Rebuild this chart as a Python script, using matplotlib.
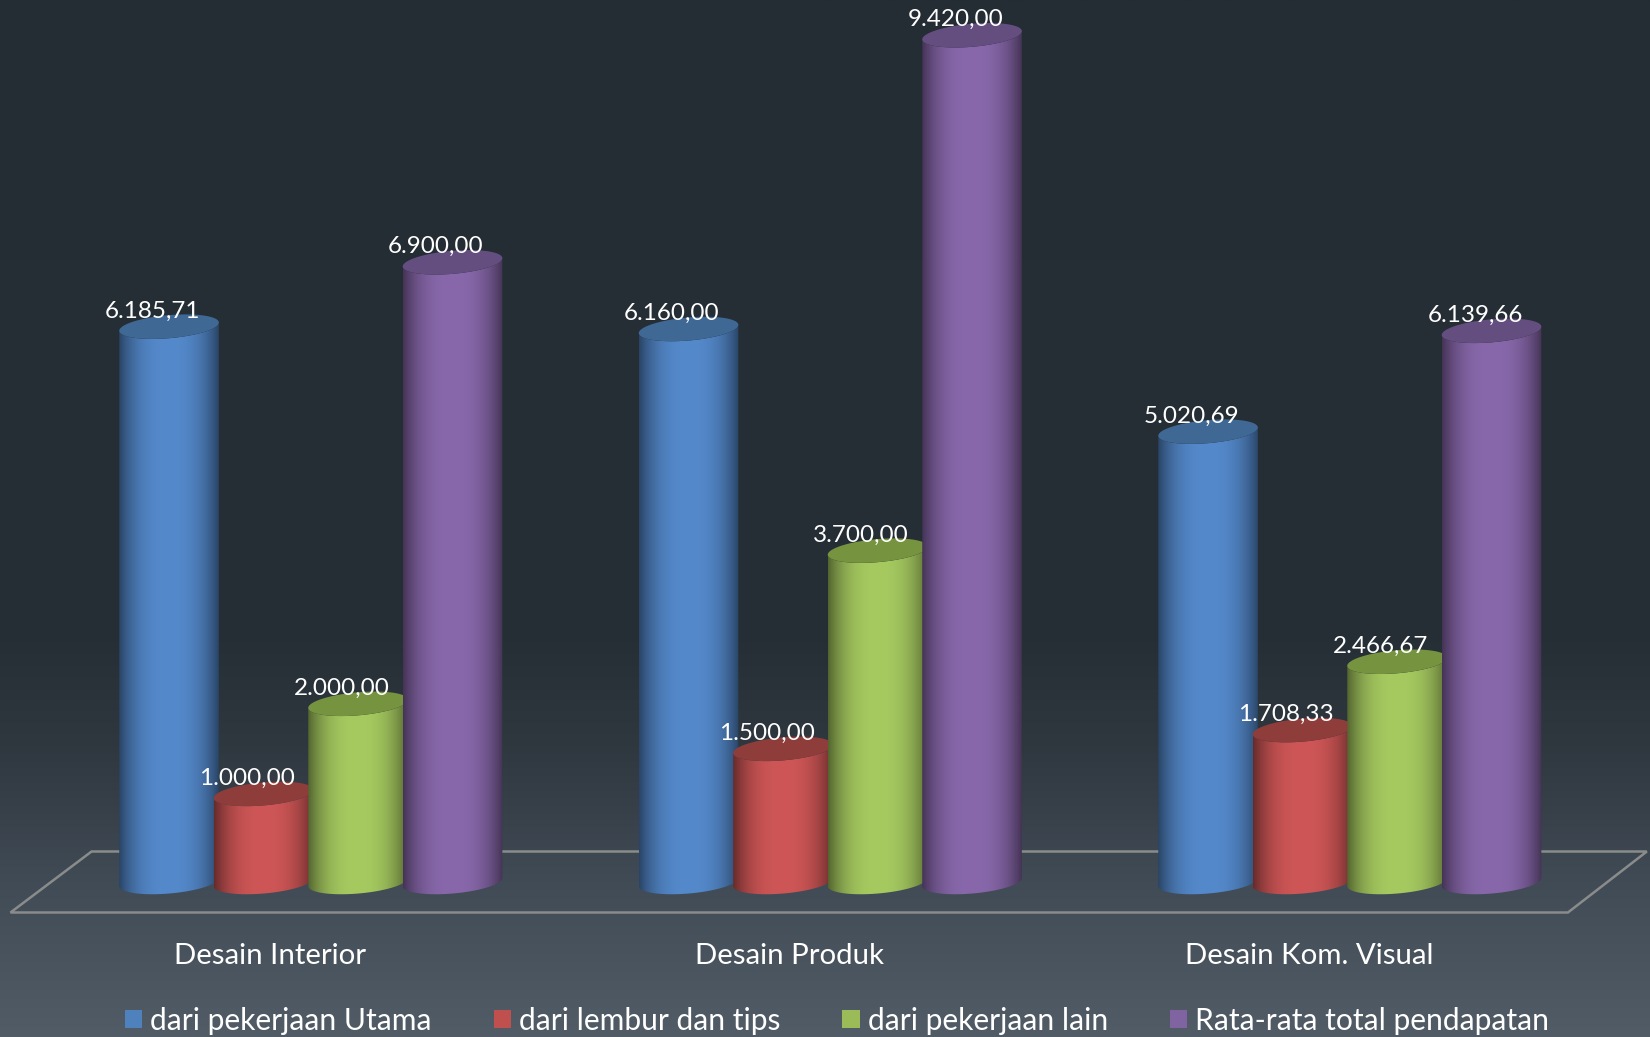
import numpy as np
import matplotlib
matplotlib.use('Agg')
import matplotlib.pyplot as plt
from matplotlib.patches import Polygon, Patch

plt.rcParams['font.family'] = ['Lato', 'DejaVu Sans']

# Data
categories = ['Desain Interior', 'Desain Produk', 'Desain Kom. Visual']
series_names = ['dari pekerjaan Utama', 'dari lembur dan tips', 'dari pekerjaan lain', 'Rata-rata total pendapatan']
pekerjaan_utama = [6185.71, 6160.00, 5020.69]
lembur_tips = [1000.00, 1500.00, 1708.33]
pekerjaan_lain = [2000.00, 3700.00, 2466.67]
total_pendapatan = [6900.00, 9420.00, 6139.66]
all_series = [pekerjaan_utama, lembur_tips, pekerjaan_lain, total_pendapatan]
value_labels = [
    ['6.185,71', '6.160,00', '5.020,69'],
    ['1.000,00', '1.500,00', '1.708,33'],
    ['2.000,00', '3.700,00', '2.466,67'],
    ['6.900,00', '9.420,00', '6.139,66'],
]

# Colours: body centre, top face, legend
body_colors = ['#5489cb', '#ce5656', '#a6ca60', '#8868ab']
top_colors = ['#3f6894', '#8f3d3b', '#76933f', '#644e80']
legend_colors = ['#4f81bd', '#c0504d', '#9bbb59', '#8064a2']

W, H = 1650, 1037
px_per_group = 519.5
px_per_value = 0.0901
base_px = 884.0      # pixel row of value 0
first_px = 310.8     # pixel column of first group centre
bar_step = 94.5 / px_per_group
semi_a = 50.0
semi_b = 11.5
tilt = np.radians(5.0)

fig = plt.figure(figsize=(W / 100, H / 100), dpi=100)
ax = fig.add_axes([0, 0, 1, 1])
ax.set_axis_off()
xlim = (-first_px / px_per_group, (W - first_px) / px_per_group)
ylim = (-(H - base_px) / px_per_value, base_px / px_per_value)


def dx(px):
    return px / px_per_group


def dy(px):
    return px / px_per_value


def ellipse(cx, cy, t):
    # tilted ellipse around a data point, sizes in pixels
    ex = semi_a * np.cos(t) * np.cos(tilt) - semi_b * np.sin(t) * np.sin(tilt)
    ey = semi_a * np.cos(t) * np.sin(tilt) + semi_b * np.sin(t) * np.cos(tilt)
    return cx + dx(ex), cy + dy(ey)


# Background gradient
stops_y = [0.0, 0.25, 0.62, 0.72, 0.85, 1.0]
stops_c = np.array([[36, 44, 52], [37, 45, 53], [38, 46, 54], [47, 55, 63], [65, 75, 85], [82, 92, 102]]) / 255
rows = np.linspace(0, 1, 400)
bg = np.stack([np.interp(rows, stops_y, stops_c[:, i]) for i in range(3)], axis=1)[:, None, :]
ax.imshow(bg, extent=(xlim[0], xlim[1], ylim[0], ylim[1]), aspect='auto', origin='upper', zorder=0)

# Floor
floor_x = [(10 * 1.0523 - first_px) / px_per_group, (1490 * 1.0523 - first_px) / px_per_group,
           (1565 * 1.0523 - first_px) / px_per_group, (87 * 1.0523 - first_px) / px_per_group]
floor_y = [dy(base_px - 912.5), dy(base_px - 912.5), dy(base_px - 851.5), dy(base_px - 851.5)]
ax.add_patch(Polygon(np.column_stack([floor_x, floor_y]), closed=True, fill=False,
                     edgecolor='#8a8c8c', linewidth=1.8, zorder=1))

# Cylinders
z = 2
cols = np.linspace(-1, 1, 200)
shade = 1 - 0.5 * np.abs(cols) ** 2.6
for g in range(len(categories)):
    for s, values in enumerate(all_series):
        val = values[g]
        cx = g + (s - 1.5) * bar_step
        rgb = np.array(matplotlib.colors.to_rgb(body_colors[s]))
        grad = (shade[:, None] * rgb)[None, :, :]
        im = ax.imshow(grad, extent=(cx - dx(semi_a), cx + dx(semi_a), -dy(25), val + dy(25)),
                       aspect='auto', interpolation='bilinear', zorder=z)
        t_low = np.linspace(np.pi, 2 * np.pi, 60)
        bx, by = ellipse(cx, dy(2), t_low)
        tx, ty = ellipse(cx, val, t_low[::-1])
        body = Polygon(np.column_stack([np.r_[bx, tx], np.r_[by, ty]]), closed=True,
                       transform=ax.transData, facecolor='none', edgecolor='none')
        ax.add_patch(body)
        im.set_clip_path(body)
        t_all = np.linspace(0, 2 * np.pi, 120)
        ex, ey = ellipse(cx, val, t_all)
        ax.fill(ex, ey, color=top_colors[s], linewidth=0, zorder=z + 0.5)
        z += 1

# Value labels
for g in range(len(categories)):
    for s, values in enumerate(all_series):
        cx = g + (s - 1.5) * bar_step
        ax.text(cx - dx(16.5), values[g] + dy(15.5), value_labels[s][g], color='white',
                fontsize=17.5, ha='center', va='center', zorder=50)

# Category labels
for g, name in enumerate(categories):
    ax.text(g - dx(41), dy(base_px - 956), name, color='white', fontsize=21.2,
            ha='center', va='center', zorder=50)

ax.set_xlim(xlim)
ax.set_ylim(ylim)

# Legend
handles = [Patch(facecolor=c, edgecolor='none', label=n) for c, n in zip(legend_colors, series_names)]
leg = ax.legend(handles=handles, loc='lower center', bbox_to_anchor=(0.5073, -0.018), ncol=4, frameon=False,
                fontsize=21.6, labelcolor='white', handlelength=0.57, handleheight=0.57,
                handletextpad=0.27, columnspacing=2.075, borderpad=0.2)

fig.savefig('out.png', dpi=100)
